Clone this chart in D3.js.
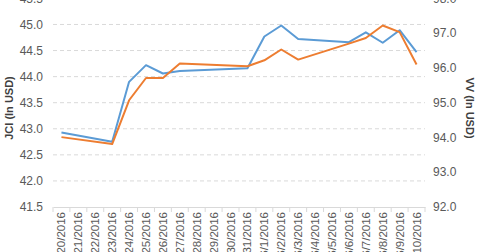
<!DOCTYPE html>
<html><head><meta charset="utf-8">
<script src="https://cdn.jsdelivr.net/npm/d3@7"></script>
<style>body{margin:0;background:#fff;overflow:hidden}svg{display:block}</style>
</head><body><svg id="c" width="480" height="252"></svg>
<script>
const categories = ["5/20/2016","5/21/2016","5/22/2016","5/23/2016","5/24/2016","5/25/2016","5/26/2016","5/27/2016","5/28/2016","5/29/2016","5/30/2016","5/31/2016","6/1/2016","6/2/2016","6/3/2016","6/4/2016","6/5/2016","6/6/2016","6/7/2016","6/8/2016","6/9/2016","6/10/2016"];
const tradeDates = ["5/20/2016","5/23/2016","5/24/2016","5/25/2016","5/26/2016","5/27/2016","5/31/2016","6/1/2016","6/2/2016","6/3/2016","6/6/2016","6/7/2016","6/8/2016","6/9/2016","6/10/2016"];
const jci = [42.93,42.75,43.90,44.22,44.06,44.11,44.16,44.77,44.98,44.72,44.66,44.85,44.65,44.89,44.47];
const vv  = [94.01,93.81,95.07,95.71,95.71,96.13,96.05,96.22,96.53,96.24,96.70,96.86,97.22,97.03,96.10];
const leftTicks = [41.5,42.0,42.5,43.0,43.5,44.0,44.5,45.0,45.5];
const rightTicks = [92,93,94,95,96,97,98];

const svg = d3.select("#c");
const L = 53, R = 425, B = 207, T = -1.6;
const x = d3.scaleBand().domain(categories).range([L, R]).padding(0);
const yL = d3.scaleLinear().domain([41.5, 45.5]).range([B, T]);
const yR = d3.scaleLinear().domain([92, 98]).range([B, T]);
const cx = d => x(d) + x.bandwidth() / 2;
const grey = "#595959";

// gridlines
svg.append("g").selectAll("line").data(leftTicks.filter(v => v > 41.5)).join("line")
  .attr("x1", L).attr("x2", R)
  .attr("y1", d => yL(d)).attr("y2", d => yL(d))
  .attr("stroke", "#d9d9d9").attr("stroke-dasharray", "4,3").attr("stroke-width", 1);

// x axis
const xa = svg.append("g").attr("transform", `translate(0,${B})`)
  .call(d3.axisBottom(x).tickSize(0).tickFormat(""));
xa.select(".domain").attr("stroke", "#d9d9d9");
// boundary tick marks
svg.append("g").selectAll("line").data(categories.concat(["end"])).join("line")
  .attr("x1", (d, i) => L + i * x.bandwidth()).attr("x2", (d, i) => L + i * x.bandwidth())
  .attr("y1", B).attr("y2", B + 5).attr("stroke", "#d9d9d9");
svg.append("g").selectAll("text").data(categories).join("text")
  .attr("transform", d => `translate(${cx(d)},${B + 5}) rotate(-90)`)
  .attr("text-anchor", "end").attr("dy", "0.35em")
  .attr("font-family", "Arial, 'Liberation Sans', sans-serif").attr("font-size", 11.5)
  .attr("fill", grey).text(d => d);

// left axis labels
svg.append("g").selectAll("text").data(leftTicks).join("text")
  .attr("x", 43).attr("y", d => yL(d)).attr("dy", "0.35em").attr("text-anchor", "end")
  .attr("font-family", "Arial, 'Liberation Sans', sans-serif").attr("font-size", 12)
  .attr("fill", grey).text(d => d.toFixed(1));
// right axis labels
svg.append("g").selectAll("text").data(rightTicks).join("text")
  .attr("x", 433).attr("y", d => yR(d)).attr("dy", "0.35em").attr("text-anchor", "start")
  .attr("font-family", "Arial, 'Liberation Sans', sans-serif").attr("font-size", 12)
  .attr("fill", grey).text(d => d.toFixed(1));

// axis titles
svg.append("text").attr("transform", `translate(13,108) rotate(-90)`)
  .attr("text-anchor", "middle").attr("font-family", "Arial, 'Liberation Sans', sans-serif")
  .attr("font-size", 11).attr("font-weight", "bold").attr("fill", "#404040").text("JCI (In USD)");
svg.append("text").attr("transform", `translate(466,108) rotate(90)`)
  .attr("text-anchor", "middle").attr("font-family", "Arial, 'Liberation Sans', sans-serif")
  .attr("font-size", 11).attr("font-weight", "bold").attr("fill", "#404040").text("VV (In USD)");

// lines
const lineL = d3.line().x((d, i) => cx(tradeDates[i])).y(d => yL(d));
const lineR = d3.line().x((d, i) => cx(tradeDates[i])).y(d => yR(d));
svg.append("path").attr("d", lineL(jci)).attr("fill", "none").attr("stroke", "#5B9BD5").attr("stroke-width", 2).attr("stroke-linejoin", "round");
svg.append("path").attr("d", lineR(vv)).attr("fill", "none").attr("stroke", "#ED7D31").attr("stroke-width", 2).attr("stroke-linejoin", "round");
</script></body></html>
